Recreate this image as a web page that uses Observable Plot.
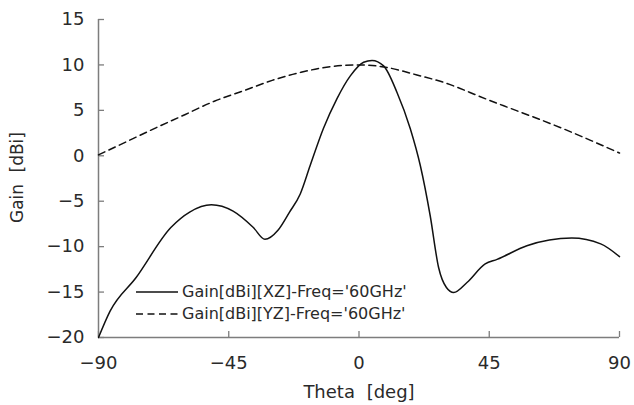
<!DOCTYPE html>
<html>
<head>
<meta charset="utf-8">
<script src="https://cdn.jsdelivr.net/npm/d3@7"></script>
<script src="https://cdn.jsdelivr.net/npm/@observablehq/plot@0.6"></script>
<style>
  html, body { margin: 0; padding: 0; background: #fff; }
  #wrap { position: relative; width: 634px; height: 405px; font-family: "DejaVu Sans", sans-serif; }
  #legend { position: absolute; left: 136px; top: 281px; font-size: 16px; color: #2a2a2a; line-height: 22px; }
  #legend .row { display: flex; align-items: center; height: 22px; white-space: nowrap; }
  #legend svg { margin-right: 4px; }
  .wide { word-spacing: 6px; }
</style>
</head>
<body>
<div id="wrap"></div>
<script>
// XZ cut (solid)
const thetaXZ = [-90, -86, -77, -65, -58.5, -51, -43.5, -36.5, -32.5, -28, -24, -20.3, -16.9, -12.3, -7.6, -3, 1.6, 4.5, 8.5, 13.1, 17.7, 21.2, 24.6, 27.5, 30.2, 32.7, 37.3, 43.6, 47.7, 58, 73.5, 83.5, 90];
const gainXZ  = [-20, -17.1, -13.4, -7.9, -6.2, -5.4, -6.1, -7.9, -9.2, -8.2, -6.2, -4.2, -1.1, 3.0, 6.3, 8.8, 10.3, 10.5, 9.9, 7.0, 3.0, -1.1, -6.6, -12.3, -14.5, -15.05, -13.95, -11.9, -11.4, -9.9, -9.05, -9.7, -11.1];
// YZ cut (dashed)
const thetaYZ = [-90, -80, -70, -60, -50, -40, -30, -20, -10, 0, 10, 20, 30, 40, 50, 60, 70, 80, 90];
const gainYZ  = [0.1, 1.6, 3.1, 4.55, 6.0, 7.15, 8.3, 9.2, 9.8, 10.0, 9.7, 8.9, 8.0, 6.75, 5.5, 4.3, 3.05, 1.7, 0.3];

const xTicks = [-90, -45, 0, 45, 90];
const yTicks = [-20, -15, -10, -5, 0, 5, 10, 15];
const seriesNames = ["Gain[dBi][XZ]-Freq='60GHz'", "Gain[dBi][YZ]-Freq='60GHz'"];
const xLabel = "Theta [deg]";
const yLabel = "Gain [dBi]";

const xz = thetaXZ.map((t, i) => ({theta: t, gain: gainXZ[i]}));
const yz = thetaYZ.map((t, i) => ({theta: t, gain: gainYZ[i]}));

const axisColor = "#7d7d7d";
const inkColor = "#2a2a2a";

const chart = Plot.plot({
  width: 634,
  height: 405,
  marginLeft: 98,
  marginRight: 15,
  marginTop: 19,
  marginBottom: 68,
  style: {fontFamily: "'DejaVu Sans', sans-serif", fontSize: "18px", color: inkColor, background: "#fff"},
  x: {domain: [-90, 90]},
  y: {domain: [-20, 15]},
  marks: [
    Plot.axisY({ticks: yTicks, tickSize: 0, tickPadding: 14, label: null, fontSize: 18, fill: inkColor}),
    Plot.axisY({ticks: yTicks, tickSize: -6, text: null, label: null, stroke: axisColor, strokeWidth: 1.3}),
    Plot.axisX({ticks: xTicks, tickSize: 0, tickPadding: 19, label: null, fontSize: 18, fill: inkColor}),
    Plot.axisX({ticks: xTicks, tickSize: -6, text: null, label: null, stroke: axisColor, strokeWidth: 1.3}),
    Plot.ruleX([-90], {stroke: axisColor, strokeWidth: 1.5}),
    Plot.ruleY([-20], {stroke: axisColor, strokeWidth: 1.5}),
    Plot.line(yz, {x: "theta", y: "gain", stroke: "#111", strokeWidth: 1.5, strokeDasharray: "7,4.5", curve: "natural"}),
    Plot.line(xz, {x: "theta", y: "gain", stroke: "#111", strokeWidth: 1.5, curve: "monotone-x"}),
    Plot.text([xLabel], {frameAnchor: "bottom", textAnchor: "middle", lineAnchor: "middle", dy: 55, fontSize: 18, fill: inkColor}),
    Plot.text([yLabel], {frameAnchor: "left", textAnchor: "middle", lineAnchor: "middle", dx: -81, dy: -1, rotate: -90, fontSize: 17, fill: inkColor})
  ]
});

const wrap = document.getElementById("wrap");
wrap.appendChild(chart);

d3.select(chart).selectAll("text")
  .filter(function() { return this.textContent === xLabel || this.textContent === yLabel; })
  .classed("wide", true);

const legend = document.createElement("div");
legend.id = "legend";
const dashes = [null, "7,4.5"];
seriesNames.forEach((name, i) => {
  const row = document.createElement("div");
  row.className = "row";
  row.innerHTML = `<svg width="42" height="10"><line x1="0" y1="5" x2="42" y2="5" stroke="#111" stroke-width="1.5" ${dashes[i] ? `stroke-dasharray="${dashes[i]}"` : ""}/></svg><span></span>`;
  row.querySelector("span").textContent = name;
  legend.appendChild(row);
});
wrap.appendChild(legend);
</script>
</body>
</html>
